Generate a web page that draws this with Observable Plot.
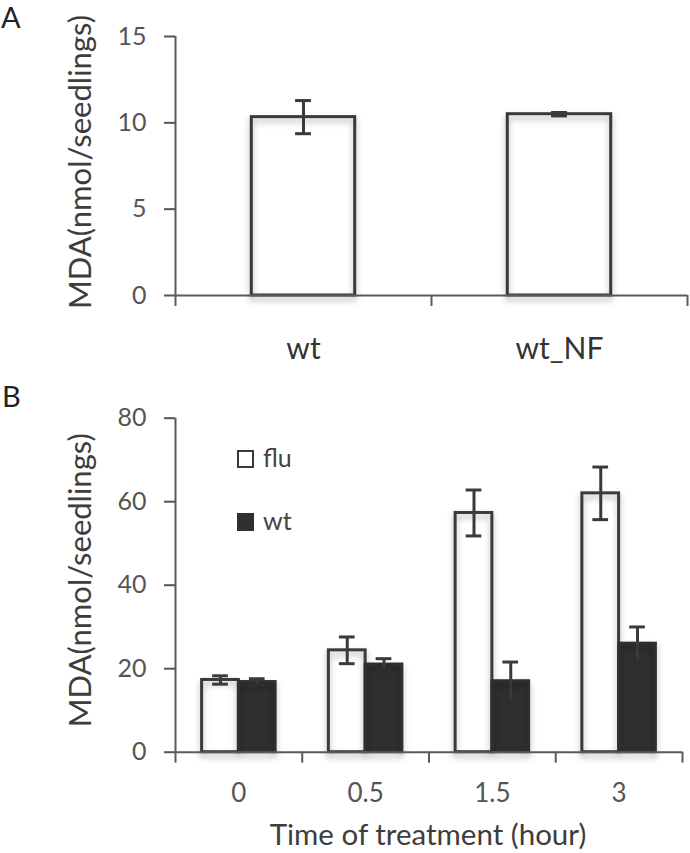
<!DOCTYPE html>
<html><head><meta charset="utf-8">
<script src="https://cdn.jsdelivr.net/npm/d3@7"></script>
<script src="https://cdn.jsdelivr.net/npm/@observablehq/plot@0.6"></script>
<style>
body{margin:0;background:#fff;font-family:Lato,sans-serif;}
#wrap{position:relative;width:690px;height:853px;overflow:hidden;background:#fff;}
.panel{position:absolute;left:0;}
.tag{position:absolute;font-size:29px;line-height:1.2;color:#222;}
.leg{position:absolute;font-size:25px;line-height:1;color:#444;}
.box{position:absolute;box-sizing:border-box;width:17px;height:18px;border:2px solid #3a3a3a;}
</style></head><body>
<div id="wrap">
<div class="tag" style="left:1px;top:0px">A</div>
<div class="tag" style="left:2px;top:379px">B</div>
<div id="a" class="panel" style="top:0"></div>
<div id="b" class="panel" style="top:370px"></div>
<div id="legend"></div>
</div>
<script>
// Panel A data
const groupsA = ["wt", "wt_NF"];
const meanA = [10.33, 10.5];
const errA = [0.96, 0.1];
const ticksA = [0, 5, 10, 15];
const yLabel = "MDA(nmol/seedlings)";

// Panel B data
const timesB = ["0", "0.5", "1.5", "3"];
const seriesB = ["flu", "wt"];
const fluB = [17.3, 24.4, 57.3, 62.0];
const fluErrB = [1.0, 3.2, 5.5, 6.3];
const wtB = [16.8, 21.0, 17.0, 26.0];
const wtErrB = [0.8, 1.4, 4.6, 4.0];
const ticksB = [0, 20, 40, 60, 80];
const xTitleB = "Time of treatment (hour)";

const ink = "#3a3a3a";
const dark = "#2f2f2f";
const axisInk = "#5a5a5a";
const tickInk = "#555";
const labelInk = "#3d3d3d";
const shadow = "drop-shadow(0px 4px 3px rgba(0,0,0,0.3))";

function shadeOutlines(chart) {
  // second rect mark in each chart is the outline; give it a soft Excel-like shadow
  const groups = chart.querySelectorAll('g[aria-label="rect"]');
  if (groups.length > 1) groups[1].style.filter = shadow;
}

// ---------- Panel A ----------
const rowsA = groupsA.map((g, i) => ({i, g, v: meanA[i], e: errA[i]}));
const boundsA = d3.range(groupsA.length + 1).map(k => k - 0.5);
const halfA = 0.202, capA = 0.031;
const chartA = Plot.plot({
  width: 690, height: 370,
  marginTop: 36, marginBottom: 75, marginLeft: 175, marginRight: 3,
  style: {fontFamily: "Lato, sans-serif", background: "transparent", overflow: "visible"},
  x: {type: "linear", domain: [-0.5, groupsA.length - 0.5]},
  y: {domain: [ticksA[0], ticksA[ticksA.length - 1]]},
  marks: [
    Plot.rectY(rowsA, {x1: d => d.i - halfA, x2: d => d.i + halfA, y1: 0, y2: "v", fill: "white"}),
    Plot.rectY(rowsA, {x1: d => d.i - halfA, x2: d => d.i + halfA, y1: 0, y2: "v", fill: "none", stroke: ink, strokeWidth: 3}),
    Plot.ruleX(rowsA, {x: "i", y1: d => d.v - d.e, y2: d => d.v + d.e, stroke: ink, strokeWidth: 3}),
    Plot.ruleY(rowsA, {y: d => d.v + d.e, x1: d => d.i - capA, x2: d => d.i + capA, stroke: ink, strokeWidth: 3}),
    Plot.ruleY(rowsA, {y: d => d.v - d.e, x1: d => d.i - capA, x2: d => d.i + capA, stroke: ink, strokeWidth: 3}),
    Plot.ruleY([0], {stroke: axisInk, strokeWidth: 2}),
    Plot.ruleX([-0.5], {y1: ticksA[0], y2: ticksA[ticksA.length - 1], stroke: axisInk, strokeWidth: 2}),
    Plot.axisY({ticks: ticksA, tickSize: 11, tickPadding: 18, fontSize: 25, color: tickInk, strokeWidth: 2, label: null}),
    Plot.axisX({ticks: boundsA, tickSize: 11, tickFormat: () => "", color: axisInk, strokeWidth: 2, label: null}),
    Plot.axisX({ticks: rowsA.map(d => d.i), tickSize: 0, tickPadding: 42, tickFormat: i => groupsA[i], fontSize: 30, color: "#333", label: null}),
    Plot.text([yLabel], {text: d => d, frameAnchor: "left", textAnchor: "middle", lineAnchor: "middle", rotate: -90, dx: -94, dy: -4, fontSize: 31, fill: labelInk})
  ]
});
shadeOutlines(chartA);
document.getElementById("a").append(chartA);

// ---------- Panel B ----------
const half = 0.29, capB = 0.062;
const rowsB = [];
timesB.forEach((t, i) => {
  rowsB.push({i, t, s: seriesB[0], v: fluB[i], e: fluErrB[i], x1: i - half, x2: i, xc: i - half / 2});
  rowsB.push({i, t, s: seriesB[1], v: wtB[i], e: wtErrB[i], x1: i, x2: i + half, xc: i + half / 2});
});
const isFlu = d => d.s === seriesB[0];
const boundsB = d3.range(timesB.length + 1).map(k => k - 0.5);
const chartB = Plot.plot({
  width: 690, height: 483,
  marginTop: 47.7, marginBottom: 101.3, marginLeft: 175, marginRight: 8,
  style: {fontFamily: "Lato, sans-serif", background: "transparent", overflow: "visible"},
  x: {type: "linear", domain: [-0.5, timesB.length - 0.5]},
  y: {domain: [ticksB[0], ticksB[ticksB.length - 1]]},
  marks: [
    Plot.rectY(rowsB, {x1: "x1", x2: "x2", y1: 0, y2: "v", fill: d => isFlu(d) ? "white" : dark}),
    Plot.rectY(rowsB, {x1: "x1", x2: "x2", y1: 0, y2: "v", fill: "none", stroke: d => isFlu(d) ? ink : dark, strokeWidth: 3}),
    Plot.ruleX(rowsB, {x: "xc", y1: d => d.v - d.e, y2: d => d.v + d.e, stroke: ink, strokeWidth: 3}),
    Plot.ruleY(rowsB, {y: d => d.v + d.e, x1: d => d.xc - capB, x2: d => d.xc + capB, stroke: ink, strokeWidth: 3}),
    Plot.ruleY(rowsB, {y: d => d.v - d.e, x1: d => d.xc - capB, x2: d => d.xc + capB, stroke: d => isFlu(d) ? ink : dark, strokeWidth: 3}),
    Plot.ruleY([0], {stroke: axisInk, strokeWidth: 2}),
    Plot.ruleX([-0.5], {y1: ticksB[0], y2: ticksB[ticksB.length - 1], stroke: axisInk, strokeWidth: 2}),
    Plot.axisY({ticks: ticksB, tickSize: 11, tickPadding: 18, fontSize: 25, color: tickInk, strokeWidth: 2, label: null}),
    Plot.axisX({ticks: boundsB, tickSize: 11, tickFormat: () => "", color: axisInk, strokeWidth: 2, label: null}),
    Plot.axisX({ticks: timesB.map((t, i) => i), tickSize: 0, tickPadding: 31, tickFormat: i => timesB[i], fontSize: 26, color: tickInk, label: null}),
    Plot.text([yLabel], {text: d => d, frameAnchor: "left", textAnchor: "middle", lineAnchor: "middle", rotate: -90, dx: -94, dy: -5, fontSize: 31, fill: labelInk}),
    Plot.text([xTitleB], {text: d => d, frameAnchor: "bottom", textAnchor: "middle", lineAnchor: "middle", dx: -1, dy: 83, fontSize: 29.5, fill: labelInk})
  ]
});
shadeOutlines(chartB);
document.getElementById("b").append(chartB);

// ---------- Legend (panel B) ----------
const legend = document.getElementById("legend");
const legendFill = ["#fff", dark];
const legendTop = [450, 513];
seriesB.forEach((s, k) => {
  const box = document.createElement("div");
  box.className = "box";
  box.style.left = "237px";
  box.style.top = legendTop[k] + "px";
  box.style.background = legendFill[k];
  if (k === 1) box.style.borderColor = dark;
  legend.append(box);
  const lab = document.createElement("div");
  lab.className = "leg";
  lab.style.left = "263px";
  lab.style.top = (legendTop[k] - 5) + "px";
  lab.textContent = s;
  legend.append(lab);
});
</script>
</body></html>
